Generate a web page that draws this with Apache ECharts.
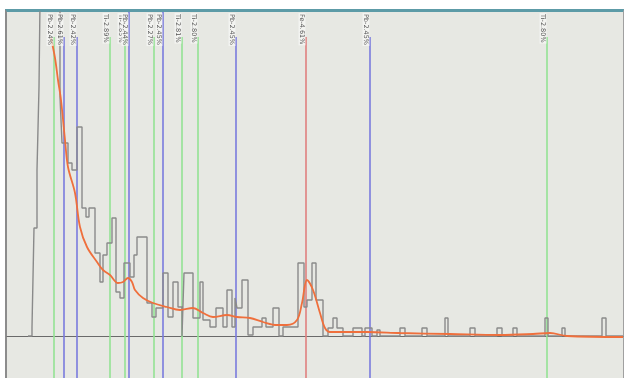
<!DOCTYPE html>
<html><head><meta charset="utf-8">
<script src="https://cdn.jsdelivr.net/npm/echarts@6/dist/echarts.min.js"></script>
<style>
html,body{margin:0;padding:0;background:#fff;}
#frame{position:absolute;left:5px;top:9px;width:616px;height:369px;border-top:3px solid #5d9ba7;border-left:2px solid #8c8c8c;border-right:1px solid #a0a0a0;background:#e7e8e3;}
#chart{position:absolute;left:0;top:0;width:625px;height:378px;}
</style></head>
<body>
<div id="frame"></div>
<div id="chart"></div>
<script>
// Spectrum histogram (channel, counts) - step bins
const histChannels = [21,25,27,30,32,34,53,55,61,65,70,75,79,82,88,93,96,100,105,109,113,117,123,127,130,140,145,149,156,161,166,171,175,177,186,193,196,203,209,216,220,225,228,230,235,241,246,255,259,266,272,276,291,297,300,305,309,316,321,326,330,336,346,355,358,365,370,373,393,398,415,420,438,441,463,468,490,495,506,510,538,541,555,558,595,599,616];
const histCounts   = [0,9,108,166,249,420,239,193,173,166,209,128,119,128,83,54,81,93,118,44,38,73,59,81,99,33,19,28,63,19,54,29,0,63,18,54,16,9,28,9,46,9,38,28,56,1,9,18,9,28,0,9,73,29,36,73,36,0,8,18,8,0,8,0,8,0,6,0,8,0,8,0,18,0,8,0,8,0,8,0,18,0,8,0,18,0,0];
// Smoothed fit curve
const fitChannels = [44,48,51,54,58,61,68,73,80,90,96,103,111,116,121,125,128,136,146,160,173,186,196,206,220,230,243,256,270,280,290,295,300,306,313,318,323,360,393,443,493,526,543,560,616];
const fitCounts   = [298,278,256,236,196,169,143,109,89,74,66,61,53,54,58,54,46,38,33,29,26,28,23,19,21,19,18,14,11,11,16,33,56,46,23,8,4,4,3,2,1,2,3,0,-1];
// Element marker lines
const markerChannels = [47,57,70,103,118,122,147,156,175,191,229,299,363,540];
const markerTops     = [299,299,299,299,299,324,299,324,299,299,299,299,299,299];
const markerKinds    = ['g','b','b','g','g','b','g','b','g','g','b','r','b','g'];
const markerLabels   = ['Pb-2.24%','Pb-2.61%','Pb-2.42%','Ti-2.89%','Ti-2.85%','Pb-2.44%','Pb-2.27%','Pb-2.45%','Ti-2.81%','Ti-2.80%','Pb-2.45%','Fe-4.61%','Pb-2.45%','Ti-2.80%'];

const kindColor = {g:'#94e294', b:'#7a7ade', r:'#e07f7f'};
const yMin = -42, yMax = 324;

const chart = echarts.init(document.getElementById('chart'), null, {renderer:'canvas'});
const markData = markerChannels.map((c,i)=>[
  {coord:[c, yMin], lineStyle:{color:kindColor[markerKinds[i]], width:1.6, type:'solid'}},
  {coord:[c, markerTops[i]]}
]);
chart.setOption({
  animation:false,
  grid:{left:7,right:2,top:12,bottom:0},
  xAxis:{type:'value',min:0,max:616,show:true,axisLine:{show:true,onZero:true,lineStyle:{color:'#6a6a6a',width:1}},axisTick:{show:false},axisLabel:{show:false},splitLine:{show:false}},
  yAxis:{type:'value',min:yMin,max:yMax,show:false,splitLine:{show:false}},
  series:[
    {type:'line',data:histChannels.map((c,i)=>[c,histCounts[i]]),step:'end',symbol:'none',
     lineStyle:{color:'#8a8a8a',width:1.4},z:3,
     markLine:{silent:true,symbol:['none','none'],label:{show:false},data:markData,z:2}},
    {type:'line',data:fitChannels.map((c,i)=>[c,fitCounts[i]]),smooth:0.35,symbol:'none',
     lineStyle:{color:'#ef6f3c',width:1.8},z:4},
    {type:'scatter',symbolSize:0,z:5,
     data:markerChannels.map((c,i)=>({value:[c,yMax],name:markerLabels[i]})),
     label:{show:true,formatter:p=>p.name,rotate:-90,position:'inside',align:'left',verticalAlign:'middle',
       offset:[1,4],fontSize:6.5,fontFamily:'DejaVu Sans',color:'#2a2a2a',backgroundColor:'rgba(248,248,246,0.9)',padding:[0,1]}}
  ]
});
</script>
</body></html>
